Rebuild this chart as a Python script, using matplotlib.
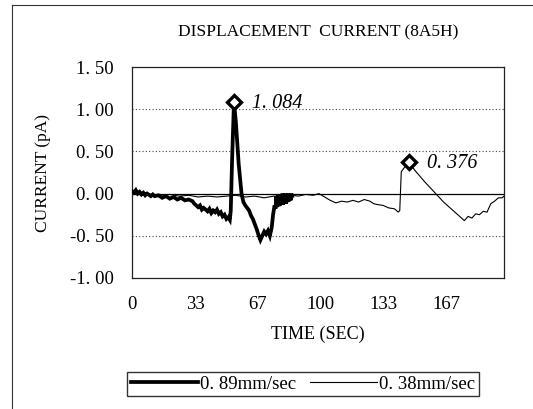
import matplotlib
matplotlib.use("Agg")
import matplotlib.pyplot as plt
from matplotlib.lines import Line2D

plt.rcParams['font.family'] = ['Liberation Serif', 'DejaVu Serif']

# 0.89 mm/sec sweep (thick trace)
t_fast = [0, 1, 2, 3, 4, 5, 6, 7, 8, 10, 11, 12, 14, 16, 18, 20, 22, 24, 26, 28,
          30, 32, 33, 35, 36, 37, 38, 40, 41, 42, 43, 44, 45, 46, 47, 48, 49, 50,
          51, 51.8, 52.3, 53, 54, 55, 56.5, 58, 59, 60, 61, 62, 63, 64, 65, 66,
          67, 68, 69, 70, 71, 72, 73, 74, 74.7, 75.5,
          76, 76.4, 76.8, 77.2, 77.6, 78, 78.4, 78.8, 79.2, 79.6, 80, 80.4, 80.8,
          81.2, 81.6, 82, 82.4, 82.8, 83.2, 83.6, 84, 84.4, 84.8]
i_fast = [0.03, 0.01, 0.04, 0.0, 0.02, -0.01, 0.01, -0.02, 0.0, -0.03, -0.01, -0.03,
          -0.02, -0.05, -0.03, -0.06, -0.04, -0.07, -0.05, -0.08,
          -0.07, -0.09, -0.12, -0.16, -0.14, -0.19, -0.17, -0.21, -0.18, -0.23,
          -0.20, -0.22, -0.19, -0.24, -0.22, -0.27, -0.25, -0.30,
          -0.28, -0.31, -0.20, 0.40, 1.084, 0.85, 0.35, 0.0, -0.10, -0.14, -0.17,
          -0.20, -0.26, -0.30, -0.36, -0.42,
          -0.49, -0.55, -0.50, -0.45, -0.48, -0.44, -0.50, -0.40, -0.25, -0.14,
          -0.18, -0.03, -0.16, -0.02, -0.15, -0.01, -0.14, -0.02, -0.13, 0.0, -0.13,
          -0.02, -0.11, 0.0, -0.12, -0.01, -0.10, 0.0, -0.09, -0.01, -0.08, 0.0,
          -0.03]

# 0.38 mm/sec sweep (thin trace)
t_slow = [0, 3, 6, 10, 15, 20, 25, 30, 35, 40, 45, 50, 55, 60, 65, 70, 75, 80,
          85, 88, 92, 96, 99, 102, 105, 108, 111, 114, 117, 120, 123, 126, 128,
          130, 133, 136, 139, 141, 141.8, 142.6, 146.5, 150, 155, 160, 165, 170,
          174, 176, 178, 180, 182, 184, 186, 188, 190, 192, 194, 196, 197]
i_slow = [0.02, 0.0, 0.01, -0.01, -0.02, -0.01, -0.03, -0.02, -0.04, -0.03, -0.04,
          -0.03, -0.02, -0.04, -0.03, -0.05, -0.03, -0.04, -0.02, -0.03, -0.01,
          -0.02, 0.0, -0.04, -0.08, -0.11, -0.09, -0.10, -0.08, -0.10, -0.07,
          -0.09, -0.12, -0.13, -0.14, -0.17, -0.18, -0.22, -0.20, 0.26, 0.376,
          0.27, 0.14, 0.02, -0.10, -0.20, -0.28, -0.32, -0.27, -0.29, -0.24,
          -0.25, -0.21, -0.22, -0.12, -0.09, -0.05, -0.05, -0.03]

peak_t = [54, 146.5]
peak_i = [1.084, 0.376]
peak_txt = ['1. 084', '0. 376']

x_ticks = [0, 33.33, 66.67, 100, 133.33, 166.67]
x_labels = ['0', '33', '67', '100', '133', '167']
y_ticks = [-1.0, -0.5, 0.0, 0.5, 1.0, 1.5]
y_labels = ['-1. 00', '-0. 50', '0. 00', '0. 50', '1. 00', '1. 50']

fig = plt.figure(figsize=(5.33, 4.09), dpi=100)
ax = fig.add_axes([132/533, 1-278/409, 372/533, 211/409])

for y in [-0.5, 0.5, 1.0]:
    ax.axhline(y, color='#444444', lw=0.8, ls=(0, (1, 2)), zorder=1)
ax.axhline(0, color='black', lw=0.9, zorder=1)

ax.plot(t_fast, i_fast, color='black', lw=2.7, solid_joinstyle='miter', zorder=3,
        label='0. 89mm/sec')
ax.plot(t_slow, i_slow, color='black', lw=0.8, zorder=2, label='0. 38mm/sec')
ax.plot(peak_t, peak_i, ls='none', marker='D', ms=7.5, mfc='white', mec='black',
        mew=2.4, zorder=4)
for xx, yy, s in zip(peak_t, peak_i, peak_txt):
    ax.annotate(s, (xx, yy), xytext=(13, -1), textcoords='offset points',
                va='center', ha='left', fontsize=14.5, style='italic')

ax.set_xlim(0, 197)
ax.set_ylim(-1.0, 1.5)
ax.set_xticks(x_ticks)
ax.set_xticklabels(x_labels)
ax.set_yticks(y_ticks)
ax.set_yticklabels(y_labels)
ax.tick_params(length=0, labelsize=13.5, pad=13)
ax.tick_params(axis='x', pad=13)
for sp in ax.spines.values():
    sp.set_linewidth(0.9)
    sp.set_color('#222222')

ax.set_title('DISPLACEMENT  CURRENT (8A5H)', fontsize=12.5, pad=22)
ax.set_xlabel('TIME (SEC)', fontsize=13, labelpad=9)
ax.set_ylabel('CURRENT (pA)', fontsize=12.5, labelpad=14)

fig.legend(loc='center', bbox_to_anchor=(303/533, 1-384/409), ncol=2,
           fontsize=13.5, frameon=True, fancybox=False, edgecolor='black',
           handlelength=3.6, handletextpad=0.1, columnspacing=0.7,
           borderpad=0.2, borderaxespad=0)

# outer frame (only left and top edges are visible in the scan)
fig.add_artist(Line2D([12/533, 12/533], [0, 1-5/409], color='#333333', lw=0.8))
fig.add_artist(Line2D([12/533, 1], [1-5/409, 1-5/409], color='#333333', lw=0.8))

fig.savefig('out.png', dpi=100)
